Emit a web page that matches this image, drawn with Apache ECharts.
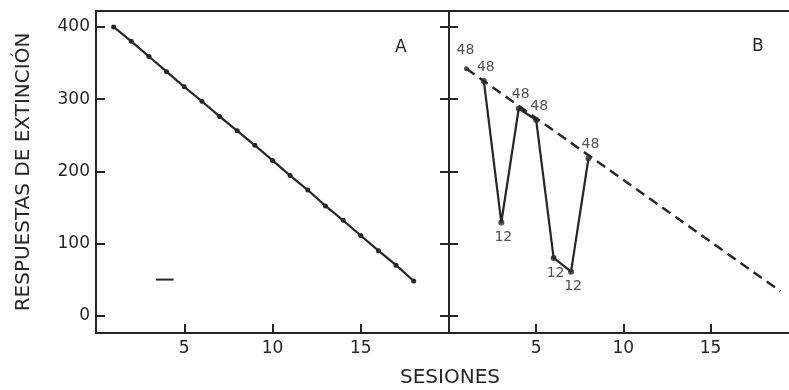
<!DOCTYPE html>
<html><head><meta charset="utf-8">
<script src="https://cdn.jsdelivr.net/npm/echarts@6/dist/echarts.min.js"></script>
<style>html,body{margin:0;padding:0;background:#fff}#c{width:789px;height:390px}</style>
</head><body><div id="c"></div>
<script>
// Panel A: sessions and extinction responses
const sessionsA = [1,2,3,4,5,6,7,8,9,10,11,12,13,14,15,16,17,18];
const valuesA = [400,380,359,338,317,297,276,256,236,215,194,174,152,132,111,90,70,48];
// stray short mark in panel A
const markA_x = [3.4, 4.4];
const markA_y = [50, 50];
// Panel B
const sessionsB = [1,2,3,4,5,6,7,8];
const valuesB = [342,325,129,287,271,80,61,218];
const labelsB = ['48','48','12','48','48','12','12','48'];
// dashed trend line in panel B
const trendB_x = [1, 19];
const trendB_y = [342, 34];
// ticks
const yTicks = [0,100,200,300,400];
const xTicks = [5,10,15];
const yAxisTitle = 'RESPUESTAS DE EXTINCIÓN';
const xAxisTitle = 'SESIONES';
const panelNames = ['A','B'];

const INK = '#262626';
const FONT = 'DejaVu Sans';
const zip = (a,b) => a.map((v,i)=>[v,b[i]]);

const chart = echarts.init(document.getElementById('c'), null, {renderer:'canvas'});

const lineStyleAxis = {color: INK, width: 2};
function xAxisBottom(gi, max){
  return {type:'value', gridIndex:gi, min:0, max:max, position:'bottom',
    axisLine:{show:true, onZero:false, lineStyle:lineStyleAxis},
    axisTick:{show:true, inside:true, length:9, customValues:xTicks, lineStyle:{color:INK,width:2}},
    axisLabel:{show:true, customValues:xTicks, margin:7, color:INK, fontFamily:FONT, fontSize:17},
    splitLine:{show:false}};
}
function xAxisTop(gi, max){
  return {type:'value', gridIndex:gi, min:0, max:max, position:'top',
    axisLine:{show:true, onZero:false, lineStyle:lineStyleAxis},
    axisTick:{show:false}, axisLabel:{show:false}, splitLine:{show:false}};
}
function yAxisBase(gi, opts){
  return Object.assign({type:'value', gridIndex:gi, min:-24, max:422, position:'left',
    axisLine:{show:true, onZero:false, lineStyle:lineStyleAxis},
    splitLine:{show:false}}, opts);
}

const option = {
  backgroundColor:'#fff',
  animation:false,
  grid:[
    {left:96, top:11, width:353, height:322},
    {left:449, top:11, width:340, height:322}
  ],
  xAxis:[
    xAxisBottom(0, 20), xAxisTop(0, 20),
    xAxisBottom(1, 19.5), xAxisTop(1, 19.5)
  ],
  yAxis:[
    yAxisBase(0, {
      axisTick:{show:true, inside:true, length:9, customValues:yTicks, lineStyle:{color:INK,width:2}},
      axisLabel:{show:true, customValues:yTicks, margin:6, color:INK, fontFamily:FONT, fontSize:17},
      name:yAxisTitle, nameLocation:'middle', nameGap:62, nameRotate:90,
      nameTextStyle:{color:INK, fontFamily:FONT, fontSize:20}
    }),
    yAxisBase(1, {
      axisTick:{show:true, inside:true, length:9, customValues:yTicks, lineStyle:{color:INK,width:2}},
      axisLabel:{show:false}
    }),
    yAxisBase(1, {
      axisTick:{show:true, inside:false, length:9, customValues:yTicks, lineStyle:{color:INK,width:2}},
      axisLabel:{show:false}
    })
  ],
  series:[
    {type:'line', xAxisIndex:0, yAxisIndex:0, data:zip(sessionsA, valuesA),
     lineStyle:{color:INK, width:2.2}, symbol:'circle', symbolSize:5,
     itemStyle:{color:INK}},
    {type:'line', xAxisIndex:0, yAxisIndex:0, data:zip(markA_x, markA_y),
     lineStyle:{color:INK, width:2}, symbol:'none'},
    {type:'line', xAxisIndex:2, yAxisIndex:1, data:zip(trendB_x, trendB_y),
     lineStyle:{color:INK, width:2.4, type:[10,6]}, symbol:'none'},
    {type:'line', xAxisIndex:2, yAxisIndex:1, data:zip(sessionsB.slice(1), valuesB.slice(1)),
     lineStyle:{color:INK, width:2.2}, symbol:'none'},
    {type:'scatter', xAxisIndex:2, yAxisIndex:1,
     data:sessionsB.map((s,i)=>({value:[s, valuesB[i]],
        label:{show:true, formatter:labelsB[i],
          position: labelsB[i]==='12' ? 'bottom' : 'top',
          distance: labelsB[i]==='12' ? 5 : 4,
          offset: i===0 ? [-1,-5] : (i===4 ? [3,0] : [2,0])}})),
     symbolSize:(v,p)=> p.dataIndex===0 ? 5 : 6,
     itemStyle:{color:INK},
     label:{color:INK, fontFamily:FONT, fontSize:14}}
  ],
  graphic:[
    {type:'text', left:395, top:39, style:{text:panelNames[0], fill:INK, font:'17px "DejaVu Sans"'}},
    {type:'text', left:752, top:38, style:{text:panelNames[1], fill:INK, font:'17px "DejaVu Sans"'}},
    {type:'text', x:450, y:378, style:{text:xAxisTitle, fill:INK, font:'20px "DejaVu Sans"', textAlign:'center', textVerticalAlign:'middle'}}
  ]
};
chart.setOption(option);
</script>
</body></html>
